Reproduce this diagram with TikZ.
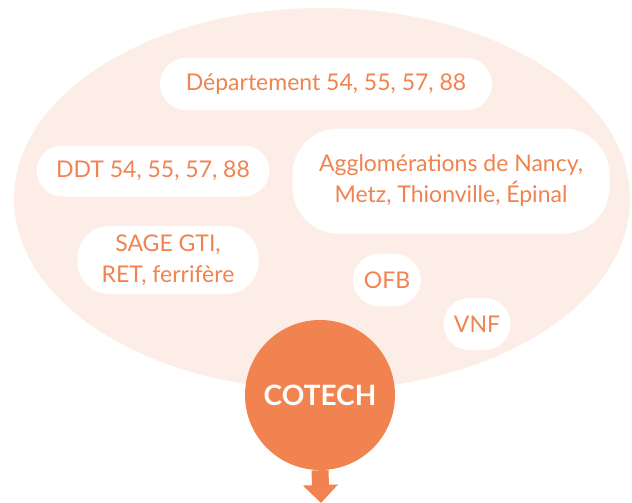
\documentclass[tikz,border=0pt]{standalone}
\usepackage{fontspec}
\setmainfont{Lato}
\usetikzlibrary{arrows.meta,shapes.geometric}
\definecolor{cotech}{HTML}{F0834F}
\definecolor{peach}{HTML}{FCEEE6}
\tikzset{
  cloud/.style={ellipse, fill=peach, inner sep=0pt},
  member/.style={fill=white, text=cotech, align=center, inner sep=0pt,
    rounded corners=26pt, font=\fontsize{23}{31}\selectfont},
  hub/.style={circle, fill=cotech, text=white, inner sep=0pt,
    minimum size=150pt, font=\fontsize{28}{32}\selectfont\bfseries},
  down/.style={draw=cotech, line width=17pt,
    -{Triangle[width=34pt, length=18pt]}}
}
\begin{document}
\begin{tikzpicture}[x=1pt, y=-1pt]
  \useasboundingbox (0,0) rectangle (632,503);
  \node[cloud, minimum width=616pt, minimum height=382pt] (cloud) at (322,199) {};

  \node[member, minimum width=332pt, minimum height=52pt] (dep) at (326,84)
    {Département 54, 55, 57, 88};
  \node[member, minimum width=233pt, minimum height=51pt] (ddt) at (153,171)
    {DDT 54, 55, 57, 88};
  \node[member, rounded corners=46pt, minimum width=317pt, minimum height=105pt] (agglo) at (451,181)
    {Agglomérations de Nancy,\\Metz, Thionville, Épinal};
  \node[member, rounded corners=32pt, minimum width=181pt, minimum height=68pt] (sage) at (168,260)
    {SAGE GTI,\\RET, ferrifère};
  \node[member, minimum width=68pt, minimum height=52pt] (ofb) at (387,280) {OFB};
  \node[member, minimum width=67pt, minimum height=52pt] (vnf) at (477,324) {VNF};

  \node[hub] (hub) at (320,395) {COTECH};
  \coordinate (out) at (321,503);
  \draw[down] (hub.south) -- (out);
\end{tikzpicture}
\end{document}
